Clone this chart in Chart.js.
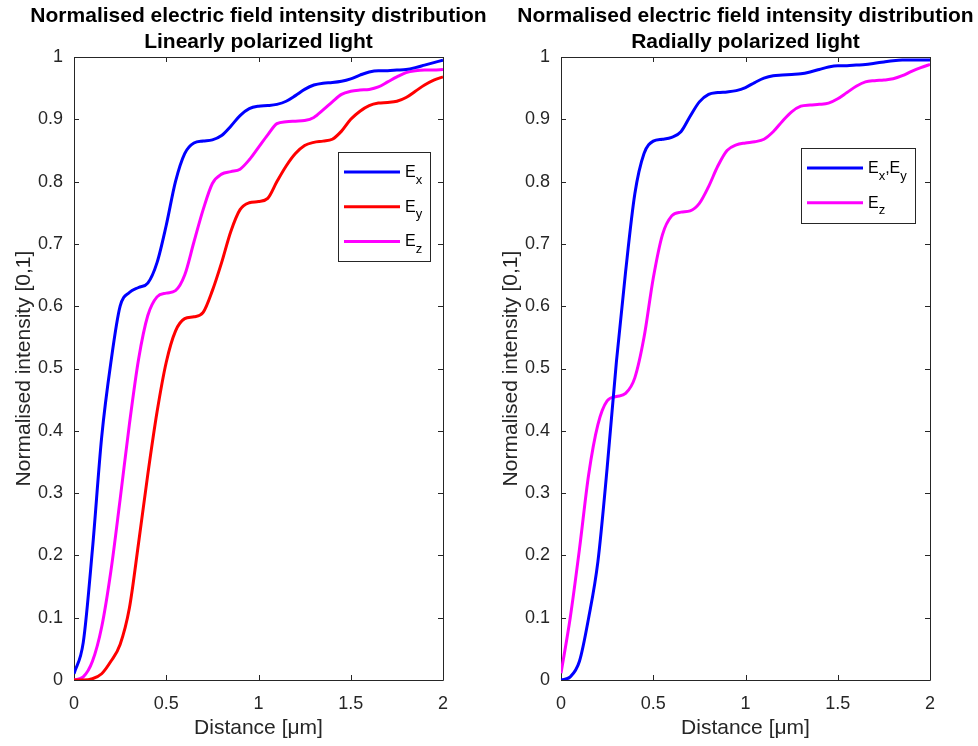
<!DOCTYPE html>
<html><head><meta charset="utf-8">
<script src="https://cdn.jsdelivr.net/npm/chart.js@4.4.1/dist/chart.umd.min.js"></script>
<style>
html,body{margin:0;padding:0;background:#fff;width:978px;height:746px;overflow:hidden;position:relative}
canvas{position:absolute;top:0}
</style></head><body>
<canvas id="c1" width="517" height="746" style="left:0px"></canvas>
<canvas id="c2" width="517" height="746" style="left:487px"></canvas>
<script>
// ---- data ----
const distance = [0,0.05,0.1,0.15,0.2,0.25,0.3,0.35,0.4,0.45,0.5,0.55,0.6,0.65,0.7,0.75,0.8,0.85,0.9,0.95,1.0,1.05,1.1,1.15,1.2,1.25,1.3,1.35,1.4,1.45,1.5,1.55,1.6,1.65,1.7,1.75,1.8,1.85,1.9,1.95,2.0];

const linearEx = [0.01,0.06,0.21,0.39,0.51,0.6,0.622,0.63,0.637,0.67,0.73,0.80,0.845,0.862,0.865,0.867,0.874,0.889,0.906,0.917,0.921,0.922,0.924,0.929,0.938,0.948,0.955,0.958,0.959,0.961,0.965,0.971,0.976,0.978,0.978,0.979,0.98,0.983,0.987,0.991,0.995];
const linearEy = [0,0,0.002,0.01,0.03,0.057,0.115,0.22,0.33,0.43,0.51,0.56,0.58,0.583,0.59,0.625,0.67,0.72,0.755,0.766,0.768,0.773,0.8,0.825,0.845,0.858,0.863,0.865,0.868,0.881,0.9,0.913,0.922,0.926,0.927,0.929,0.935,0.945,0.955,0.963,0.968];
const linearEz = [0,0.005,0.03,0.085,0.175,0.29,0.41,0.515,0.585,0.615,0.621,0.625,0.65,0.703,0.755,0.797,0.812,0.816,0.82,0.835,0.855,0.875,0.893,0.896,0.897,0.898,0.903,0.915,0.928,0.94,0.945,0.947,0.948,0.952,0.96,0.968,0.975,0.978,0.979,0.979,0.98];

const radialExEy = [0,0.005,0.03,0.1,0.19,0.34,0.51,0.655,0.78,0.845,0.865,0.868,0.871,0.88,0.905,0.928,0.94,0.943,0.944,0.946,0.951,0.959,0.966,0.97,0.971,0.972,0.973,0.976,0.98,0.984,0.986,0.986,0.987,0.988,0.99,0.992,0.994,0.995,0.995,0.995,0.995];
const radialEz = [0.011,0.1,0.21,0.33,0.41,0.448,0.455,0.46,0.485,0.55,0.645,0.715,0.745,0.751,0.753,0.765,0.792,0.825,0.85,0.859,0.862,0.864,0.868,0.88,0.897,0.912,0.921,0.923,0.924,0.926,0.933,0.943,0.953,0.96,0.962,0.963,0.965,0.97,0.977,0.983,0.988];

const xTickValues = [0,0.5,1,1.5,2];
const xTickLabels = ['0','0.5','1','1.5','2'];
const yTickValues = [0,0.1,0.2,0.3,0.4,0.5,0.6,0.7,0.8,0.9,1];
const yTickLabels = ['0','0.1','0.2','0.3','0.4','0.5','0.6','0.7','0.8','0.9','1'];

const titleMain = 'Normalised electric field intensity distribution';
const titleLinear = 'Linearly polarized light';
const titleRadial = 'Radially polarized light';
const xLabel = 'Distance [\u03BCm]';
const yLabel = 'Normalised intensity [0,1]';

// ---- styling ----
const FONT = "'Liberation Sans', Arial, Helvetica, sans-serif";
const AXIS = '#262626';
const BLUE = '#0000FF', RED = '#FF0000', MAGENTA = '#FF00FF';

const pts = (ys) => distance.map((x, i) => ({x: x, y: ys[i]}));

// Inward ticks + box frame (MATLAB style)
const framePlugin = {
  id: 'frame',
  beforeDatasetsDraw(chart) {
    const {ctx, chartArea: ca} = chart;
    const xs = chart.scales.x, ys = chart.scales.y;
    ctx.save();
    ctx.strokeStyle = AXIS;
    ctx.lineWidth = 1;
    ctx.beginPath();
    ctx.rect(Math.round(ca.left) + 0.5, Math.round(ca.top) + 0.5, Math.round(ca.right - ca.left), Math.round(ca.bottom - ca.top));
    ctx.stroke();
    const L = 5;
    ctx.beginPath();
    xs.ticks.forEach(t => {
      const px = Math.round(xs.getPixelForValue(t.value)) + 0.5;
      ctx.moveTo(px, ca.bottom); ctx.lineTo(px, ca.bottom - L);
      ctx.moveTo(px, ca.top); ctx.lineTo(px, ca.top + L);
    });
    ys.ticks.forEach(t => {
      const py = Math.round(ys.getPixelForValue(t.value)) + 0.5;
      ctx.moveTo(ca.left, py); ctx.lineTo(ca.left + L, py);
      ctx.moveTo(ca.right, py); ctx.lineTo(ca.right - L, py);
    });
    ctx.stroke();
    ctx.restore();
  }
};

// Boxed legend with subscripts
const legendPlugin = {
  id: 'subLegend',
  afterDraw(chart, args, opts) {
    const {ctx, chartArea: ca} = chart;
    const items = chart.data.datasets.map(d => ({parts: d.label.split(/_(\w)/), color: d.borderColor}));
    const mainFont = `16px ${FONT}`, subFont = `13px ${FONT}`;
    ctx.save();
    const widthOf = (parts) => {
      let w = 0;
      parts.forEach((p, i) => { ctx.font = (i % 2) ? subFont : mainFont; w += ctx.measureText(p).width; });
      return w;
    };
    const textW = Math.max(...items.map(it => widthOf(it.parts)));
    const spacing = 34.7;
    const w = Math.round(6 + 56 + 5 + textW + 8);
    const h = Math.round(40 + (items.length - 1) * spacing);
    const x0 = Math.round(ca.right - opts.right - w);
    const y0 = Math.round(ca.top + opts.top);
    ctx.fillStyle = '#fff';
    ctx.fillRect(x0, y0, w, h);
    ctx.strokeStyle = AXIS;
    ctx.lineWidth = 1;
    ctx.strokeRect(x0 + 0.5, y0 + 0.5, w, h);
    items.forEach((it, k) => {
      const y = y0 + 20 + k * spacing;
      ctx.strokeStyle = it.color;
      ctx.lineWidth = 3;
      ctx.beginPath();
      ctx.moveTo(x0 + 6, y); ctx.lineTo(x0 + 62, y);
      ctx.stroke();
      let tx = x0 + 67;
      ctx.fillStyle = '#000';
      ctx.textBaseline = 'alphabetic';
      ctx.textAlign = 'left';
      it.parts.forEach((p, i) => {
        const sub = i % 2 === 1;
        ctx.font = sub ? subFont : mainFont;
        ctx.fillText(p, tx, y + (sub ? 11.5 : 5));
        tx += ctx.measureText(p).width;
      });
    });
    ctx.restore();
  }
};

function makeChart(id, subtitle, datasets, legendPos) {
  return new Chart(document.getElementById(id), {
    type: 'line',
    data: {datasets: datasets},
    plugins: [framePlugin, legendPlugin],
    options: {
      responsive: false,
      animation: false,
      events: [],
      layout: {padding: 0},
      elements: {point: {radius: 0}, line: {borderWidth: 3, cubicInterpolationMode: 'monotone'}},
      plugins: {
        legend: {display: false},
        tooltip: {enabled: false},
        subLegend: legendPos,
        title: {
          display: true,
          fullSize: true,
          text: [titleMain, subtitle],
          color: '#000',
          font: {family: FONT, size: 21, weight: 'bold', lineHeight: 1.2},
          padding: {top: 4, bottom: 2.6}
        }
      },
      scales: {
        x: {
          type: 'linear', min: 0, max: 2,
          afterBuildTicks(s) { s.ticks = xTickValues.map(v => ({value: v})); },
          afterFit(s) { s.height = 66; },
          grid: {display: false, drawTicks: false},
          border: {display: false},
          ticks: {
            padding: 13, color: AXIS, maxRotation: 0, autoSkip: false,
            font: {family: FONT, size: 18},
            callback: (v) => xTickLabels[xTickValues.indexOf(v)]
          },
          title: {display: true, text: xLabel, color: AXIS, font: {family: FONT, size: 21, lineHeight: 1.2}, padding: {top: 0, bottom: 5}}
        },
        y: {
          type: 'linear', min: 0, max: 1, position: 'left',
          afterBuildTicks(s) { s.ticks = yTickValues.map(v => ({value: v})); },
          afterFit(s) { s.width = 74; },
          grid: {display: false, drawTicks: false},
          border: {display: false},
          ticks: {
            padding: 11, color: AXIS, autoSkip: false,
            font: {family: FONT, size: 18},
            callback: (v) => yTickLabels[yTickValues.indexOf(v)]
          },
          title: {display: true, text: yLabel, color: AXIS, font: {family: FONT, size: 21, lineHeight: 1.2}, padding: {top: 12, bottom: 0}}
        },
        // empty spacer on the right so the plot sits where the reference has it
        yRight: {
          type: 'linear', min: 0, max: 1, position: 'right',
          afterFit(s) { s.width = 74; },
          grid: {display: false, drawTicks: false},
          border: {display: false},
          ticks: {display: false}
        }
      }
    }
  });
}

makeChart('c1', titleLinear, [
  {label: 'E_x', data: pts(linearEx), borderColor: BLUE, fill: false},
  {label: 'E_y', data: pts(linearEy), borderColor: RED, fill: false},
  {label: 'E_z', data: pts(linearEz), borderColor: MAGENTA, fill: false}
], {right: 13, top: 95});

makeChart('c2', titleRadial, [
  {label: 'E_x,E_y', data: pts(radialExEy), borderColor: BLUE, fill: false},
  {label: 'E_z', data: pts(radialEz), borderColor: MAGENTA, fill: false}
], {right: 15, top: 91});
</script>
</body></html>
